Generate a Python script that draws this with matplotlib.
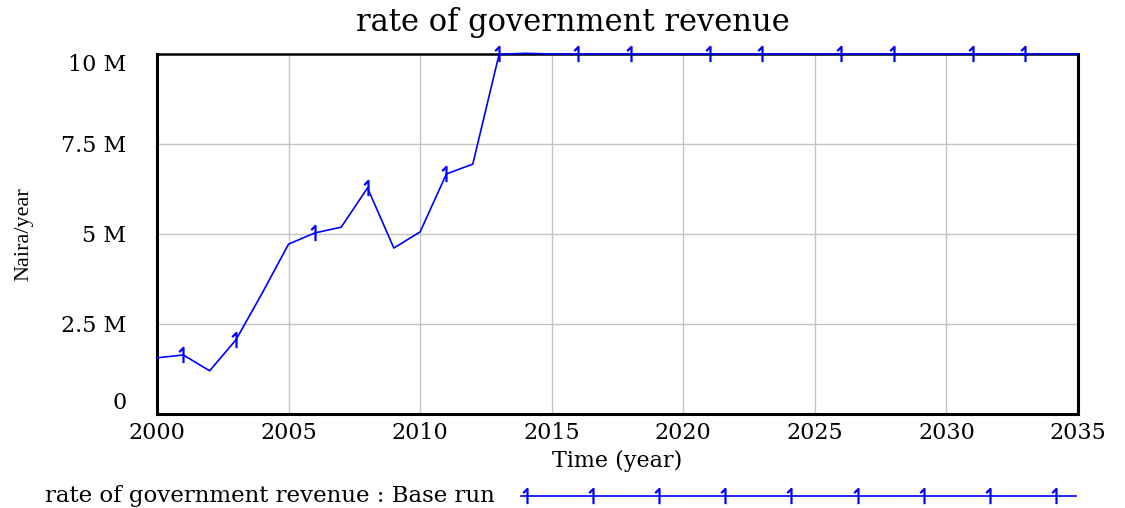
import numpy as np
import matplotlib.pyplot as plt
from matplotlib.lines import Line2D
from matplotlib.path import Path

# yearly values (million Naira/year)
years = list(range(2000, 2036))
revenue_m = [1.56, 1.64, 1.20, 2.06, 3.36, 4.72, 5.03, 5.19, 6.28, 4.61,
             5.06, 6.67, 6.94, 9.99, 10.02] + [10.0] * 21
marker_years = [2001, 2003, 2006, 2008, 2011, 2013, 2016, 2018, 2021, 2023,
                2026, 2028, 2031, 2033]

x_ticks = [2000, 2005, 2010, 2015, 2020, 2025, 2030, 2035]
y_ticks = [0, 2.5e6, 5e6, 7.5e6, 10e6]
y_tick_labels = ["0", "2.5 M", "5 M", "7.5 M", "10 M"]

title = "rate of government revenue"
legend_label = "rate of government revenue : Base run"

serif = "DejaVu Serif"
blue = "#0000ff"

# thin "1" glyph used by Vensim as the series marker
one = Path([(0, -0.5), (0, 0.5), (-0.28, 0.22)],
           [Path.MOVETO, Path.LINETO, Path.LINETO])

values = np.array(revenue_m) * 1e6
mark_idx = [years.index(y) for y in marker_years]

fig = plt.figure(figsize=(11.25, 5.08), dpi=100)
ax = fig.add_axes([157 / 1125, 1 - 414 / 508, (1078 - 157) / 1125, (414 - 54) / 508])

ax.plot(years, values, color=blue, lw=1.2, clip_on=False, zorder=4)
ax.plot(marker_years, values[mark_idx], ls="none", marker=one, markersize=11,
        markeredgewidth=1.6, markeredgecolor=blue, fillstyle="none",
        clip_on=False, zorder=4)

ax.set_xlim(2000, 2035)
ax.set_ylim(0, 10e6)
ax.set_xticks(x_ticks)
ax.set_xticklabels([str(t) for t in x_ticks], fontfamily=serif, fontsize=16)
ax.set_yticks(y_ticks)
ax.set_yticklabels(y_tick_labels, fontfamily=serif, fontsize=16)
ax.tick_params(axis="both", length=0)
ax.tick_params(axis="y", pad=22)
ax.tick_params(axis="x", pad=6)

# Vensim-style label placement at the ends of the axis
ylabels = ax.get_yticklabels()
ylabels[0].set_va("bottom")
ylabels[-1].set_va("top")

ax.grid(True, color="#c4c4c4", lw=1.0)
ax.set_axisbelow(True)
for side in ["left", "bottom", "right"]:
    ax.spines[side].set_linewidth(2.2)
ax.spines["top"].set_linewidth(1.8)

ax.set_xlabel("Time (year)", fontfamily=serif, fontsize=16, labelpad=4)
ax.set_ylabel("Naira/year", fontfamily="Liberation Serif", fontsize=16)
ax.yaxis.set_label_coords(-124 / 921, 0.5)

fig.text(573 / 1125, 1 - 22 / 508, title, fontfamily=serif, fontsize=22,
         ha="center", va="center")

# legend drawn by hand like the Vensim output
leg_y = 1 - 496 / 508
fig.text(45 / 1125, leg_y, legend_label, fontfamily=serif, fontsize=16.5,
         ha="left", va="center")
fig.add_artist(Line2D([521 / 1125, 1076 / 1125], [leg_y, leg_y], color=blue,
                      lw=1.2, transform=fig.transFigure))
leg_mx = np.linspace(527 / 1125, 1056 / 1125, 9)
fig.add_artist(Line2D(leg_mx, np.full_like(leg_mx, leg_y), ls="none",
                      marker=one, markersize=11, markeredgewidth=1.6,
                      markeredgecolor=blue, fillstyle="none",
                      transform=fig.transFigure))

fig.savefig("out.png", dpi=100)
